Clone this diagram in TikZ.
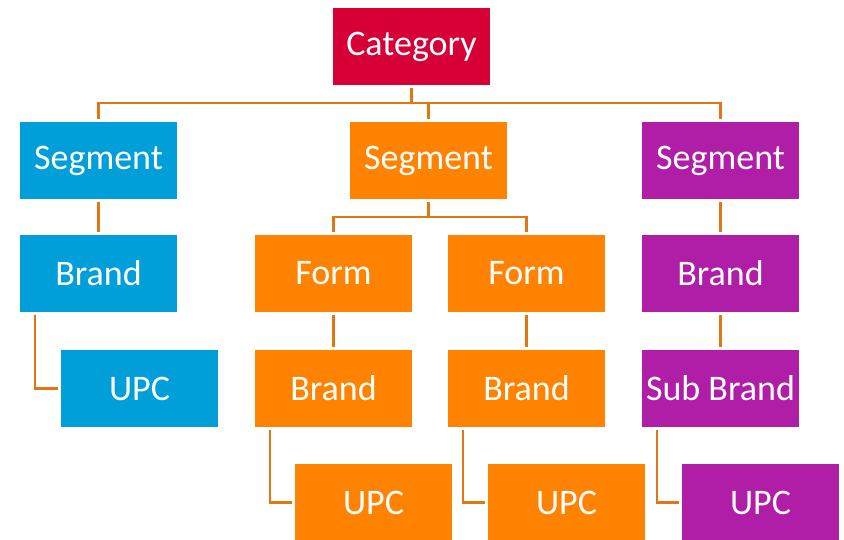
\documentclass[tikz,border=0pt]{standalone}
\usepackage{fontspec}
\setmainfont{Carlito}
\definecolor{cred}{RGB}{214,0,54}
\definecolor{cblue}{RGB}{0,159,217}
\definecolor{corange}{RGB}{255,130,0}
\definecolor{cpurple}{RGB}{176,30,168}
\definecolor{cline}{RGB}{226,118,18}
\begin{document}
\begin{tikzpicture}[x=1pt,y=-1pt,
  box/.style={minimum width=157pt,minimum height=77pt,inner sep=0pt,text=white,
    font=\fontsize{36}{40}\selectfont},
  redbox/.style={box,fill=cred},
  bluebox/.style={box,fill=cblue},
  orangebox/.style={box,fill=corange},
  purplebox/.style={box,fill=cpurple},
  conn/.style={draw=cline,line width=2.3pt}]
\useasboundingbox (0,0) rectangle (844,540);
\node[redbox] (cat) at (411.5,46.5) {Category};
\node[bluebox] (segL) at (98.5,160.5) {Segment};
\node[orangebox] (segM) at (428.5,160.5) {Segment};
\node[purplebox] (segR) at (720.5,160.5) {Segment};
\node[bluebox] (brL) at (98.5,273.5) {Brand};
\node[bluebox] (upL) at (139.5,388.5) {UPC};
\node[orangebox] (fm1) at (333.5,273.5) {Form};
\node[orangebox] (fm2) at (526.5,273.5) {Form};
\node[orangebox] (br1) at (333.5,388.5) {Brand};
\node[orangebox] (br2) at (526.5,388.5) {Brand};
\node[orangebox] (up1) at (373.5,502.5) {UPC};
\node[orangebox] (up2) at (566.5,502.5) {UPC};
\node[purplebox] (brR) at (720.5,273.5) {Brand};
\node[purplebox] (sbR) at (720.5,388.5) {Sub Brand};
\node[purplebox] (upR) at (760.5,502.5) {UPC};
% category to segments
\coordinate (barC) at ([yshift=-18pt]cat.south);
\draw[conn] ([yshift=-3pt]cat.south) -- (barC);
\draw[conn] ([yshift=3pt]segL.north) |- (barC) -| ([yshift=3pt]segR.north);
\draw[conn] (barC) -| ([yshift=3pt]segM.north);
% middle segment to forms
\coordinate (barM) at ([yshift=-18pt]segM.south);
\draw[conn] ([yshift=-3pt]segM.south) -- (barM);
\draw[conn] ([yshift=3pt]fm1.north) |- (barM) -| ([yshift=3pt]fm2.north);
% straight verticals
\draw[conn] ([yshift=-3pt]segL.south) -- ([yshift=3pt]brL.north);
\draw[conn] ([yshift=-3pt]fm1.south) -- ([yshift=3pt]br1.north);
\draw[conn] ([yshift=-3pt]fm2.south) -- ([yshift=3pt]br2.north);
\draw[conn] ([yshift=-3pt]segR.south) -- ([yshift=3pt]brR.north);
\draw[conn] ([yshift=-3pt]brR.south) -- ([yshift=3pt]sbR.north);
% elbows to UPC
\draw[conn] ([xshift=15pt,yshift=-3pt]brL.south west) |- ([xshift=-3pt]upL.west);
\draw[conn] ([xshift=15pt,yshift=-3pt]br1.south west) |- ([xshift=-3pt]up1.west);
\draw[conn] ([xshift=15pt,yshift=-3pt]br2.south west) |- ([xshift=-3pt]up2.west);
\draw[conn] ([xshift=15pt,yshift=-3pt]sbR.south west) |- ([xshift=-3pt]upR.west);
\end{tikzpicture}
\end{document}
